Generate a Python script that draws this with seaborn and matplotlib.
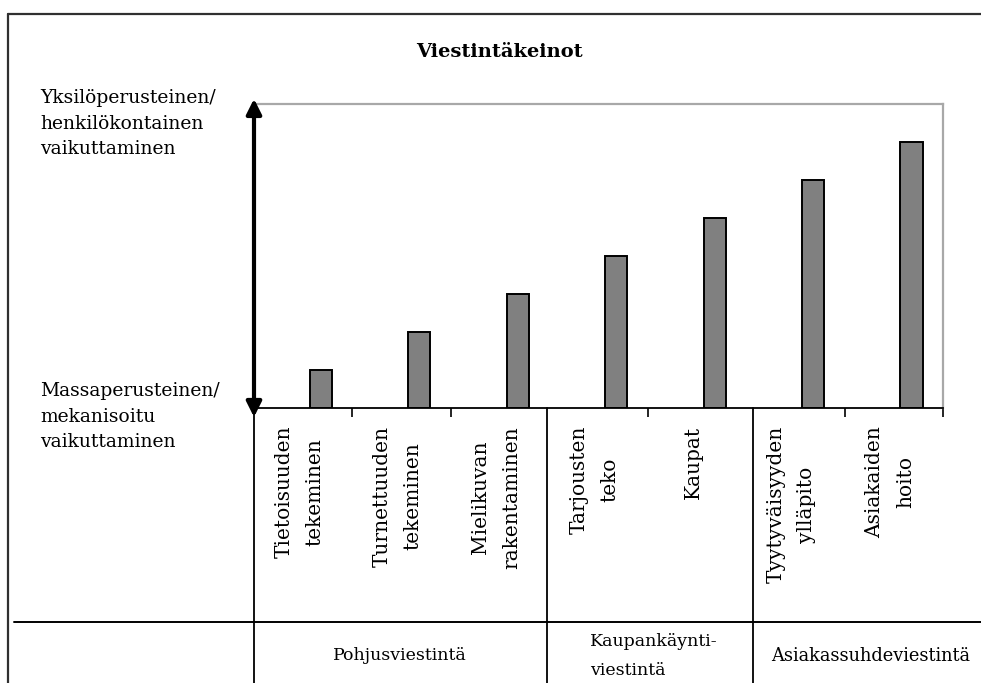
import numpy as np
import pandas as pd
import matplotlib
matplotlib.use("Agg")
import matplotlib.pyplot as plt
from matplotlib.lines import Line2D
import seaborn as sns

# Communication methods, ordered from mass-based to personal influence
categories = [
    "Tietoisuuden\ntekeminen",
    "Turnettuuden\ntekeminen",
    "Mielikuvan\nrakentaminen",
    "Tarjousten\nteko",
    "Kaupat",
    "Tyytyväisyyden\nylläpito",
    "Asiakaiden\nhoito",
]
values = [1, 2, 3, 4, 5, 6, 7]

title = "Viestintäkeinot"
top_label = "Yksilöperusteinen/\nhenkilökontainen\nvaikuttaminen"
bottom_label = "Massaperusteinen/\nmekanisoitu\nvaikuttaminen"
groups = ["Pohjusviestintä", "Kaupankäynti-\nviestintä", "Asiakassuhdeviestintä"]

W, H = 981, 683
sns.set_theme(style="white")
plt.rcParams["font.family"] = ["DejaVu Serif", "DejaVu Sans"]

fig = plt.figure(figsize=(W / 100, H / 100), dpi=100)


def fx(x):
    return x / W


def fy(y):
    return 1 - y / H


ax = fig.add_axes([fx(254), fy(408), fx(943) - fx(254), fy(104) - fy(408)])

idx = np.arange(len(categories))
df = pd.DataFrame({"pos": idx + 0.18, "value": values})
sns.barplot(data=df, x="pos", y="value", native_scale=True, width=0.225,
            color="#808080", edgecolor="black", linewidth=1.4,
            saturation=1, ax=ax)
for p in ax.patches:
    p.set_facecolor("#808080")

ax.set_xlim(-0.5, len(categories) - 0.5)
ax.set_ylim(0, 8)
ax.set_xlabel("")
ax.set_ylabel("")
ax.set_yticks([])
ax.set_xticks([0.5, 1.5, 3.5, 5.5, 6.5])
ax.set_xticklabels([])
ax.tick_params(axis="x", direction="out", length=6.5, width=1.2,
               color="black", bottom=True)

for side in ("top", "right"):
    ax.spines[side].set_color("#a8a8a8")
    ax.spines[side].set_linewidth(1.6)
ax.spines["bottom"].set_color("black")
ax.spines["bottom"].set_linewidth(1.3)
ax.spines["left"].set_visible(False)

# Double-headed arrow along the value axis
ax.annotate("", xy=(0, 1.017), xytext=(0, -0.03),
            xycoords="axes fraction", textcoords="axes fraction",
            arrowprops=dict(arrowstyle="<|-|>,head_length=0.5,head_width=0.25",
                            color="black", lw=3.0, shrinkA=0, shrinkB=0,
                            mutation_scale=18),
            annotation_clip=False)

# Rotated method labels under each category
trans = matplotlib.transforms.blended_transform_factory(ax.transData, fig.transFigure)
for i, lab in enumerate(categories):
    ax.text(i - 0.04, fy(426), lab, transform=trans, rotation=90,
            ha="center", va="top", multialignment="center",
            fontsize=14.5, linespacing=1.8, color="black")

# Title and axis-end descriptions
fig.text(fx(499), fy(52), title, ha="center", va="center",
         fontsize=14, fontweight="bold", color="black")
fig.text(fx(40), fy(89), top_label, ha="left", va="top",
         fontsize=13.5, linespacing=1.55, color="black")
fig.text(fx(40), fy(382), bottom_label, ha="left", va="top",
         fontsize=13.5, linespacing=1.55, color="black")

# Group names in the bottom table row
fig.text(fx(400), fy(656), groups[0], ha="center", va="center",
         fontsize=12.5, color="black")
fig.text(fx(590), fy(656), groups[1], ha="left", va="center",
         fontsize=12.5, linespacing=1.9, color="black")
fig.text(fx(771), fy(656), groups[2], ha="left", va="center",
         fontsize=12.8, color="black")

# Page frame and table rules
def line(x0, y0, x1, y1, color="black", lw=1.2):
    fig.add_artist(Line2D([fx(x0), fx(x1)], [fy(y0), fy(y1)],
                          transform=fig.transFigure, color=color, lw=lw))


line(8, 14, 8, H, color="#303030", lw=1.6)
line(8, 14, W, 14, color="#303030", lw=1.6)
line(14, 622, W, 622, lw=1.4)
for xv in (254, 547, 753):
    line(xv, 408, xv, H, lw=1.3)

fig.savefig("out.png", dpi=100, facecolor="white")
